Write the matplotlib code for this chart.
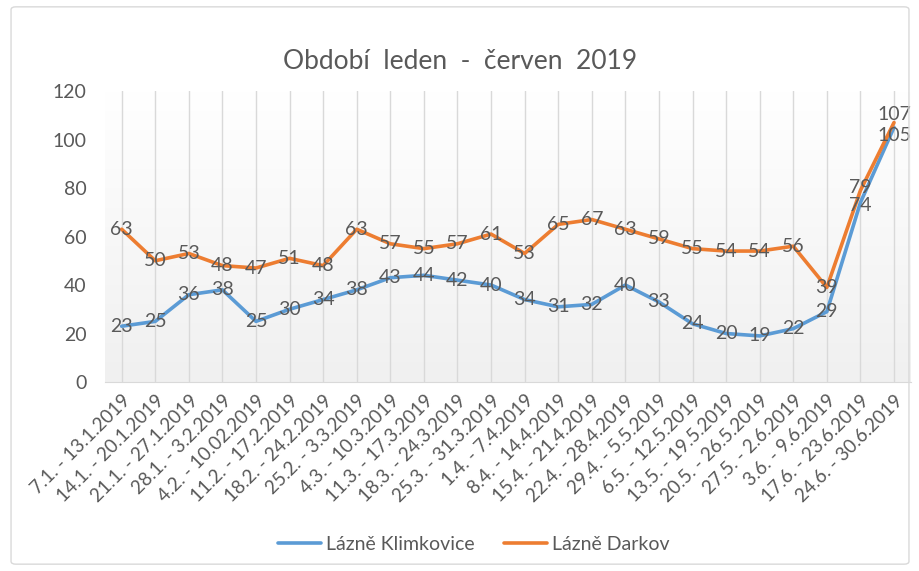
import matplotlib
matplotlib.use("Agg")
import matplotlib.pyplot as plt
import numpy as np
from matplotlib.patches import FancyBboxPatch

plt.rcParams['font.family'] = ['Lato', 'DejaVu Sans']

# data
tydny = ["7.1. - 13.1.2019", "14.1. - 20.1.2019", "21.1. - 27.1.2019", "28.1. - 3.2.2019",
         "4.2. - 10.02.2019", "11.2. - 17.2.2019", "18.2. - 24.2.2019", "25.2. - 3.3.2019",
         "4.3. - 10.3.2019", "11.3. - 17.3.2019", "18.3. - 24.3.2019", "25.3. - 31.3.2019",
         "1.4. - 7.4.2019", "8.4. - 14.4.2019", "15.4. - 21.4.2019", "22.4. - 28.4.2019",
         "29.4. - 5.5.2019", "6.5. - 12.5.2019", "13.5. - 19.5.2019", "20.5. - 26.5.2019",
         "27.5. - 2.6.2019", "3.6. - 9.6.2019", "17.6. - 23.6.2019", "24.6. - 30.6.2019"]
klimkovice = [23, 25, 36, 38, 25, 30, 34, 38, 43, 44, 42, 40, 34, 31, 32, 40, 33, 24, 20, 19, 22, 29, 74, 105]
darkov = [63, 50, 53, 48, 47, 51, 48, 63, 57, 55, 57, 61, 53, 65, 67, 63, 59, 55, 54, 54, 56, 39, 79, 107]
y_ticks = [0, 20, 40, 60, 80, 100, 120]

modra = "#5B9BD5"
oranzova = "#ED7D31"
seda = "#595959"

fig = plt.figure(figsize=(9.2, 5.71), dpi=100)
fig.patch.set_facecolor("white")

# ramecek kolem grafu
ram = FancyBboxPatch((0.012, 0.012), 0.976, 0.976, boxstyle="round,pad=0,rounding_size=0.005",
                     transform=fig.transFigure, fill=False, edgecolor="#D9D9D9", linewidth=1)
fig.patches.append(ram)

ax = fig.add_axes([0.114, 0.331, 0.876, 0.5096])
x = np.arange(len(tydny))

# gradient pozadi
grad = np.linspace(0, 1, 256).reshape(-1, 1)
ax.imshow(grad, extent=[-0.5, len(tydny) - 0.5, 0, 120], aspect="auto",
          cmap=matplotlib.colors.LinearSegmentedColormap.from_list("g", ["#F0F0F0", "#FFFFFF"]),
          origin="lower", zorder=0)

for xi in x:
    ax.axvline(xi, color="#D9D9D9", linewidth=1, zorder=1)

ax.plot(x, klimkovice, color=modra, linewidth=2.6, label="Lázně Klimkovice", zorder=3,
        solid_capstyle="round", solid_joinstyle="round")
ax.plot(x, darkov, color=oranzova, linewidth=2.6, label="Lázně Darkov", zorder=3,
        solid_capstyle="round", solid_joinstyle="round")

# popisky hodnot - u tesnych dvojic trochu od sebe
for xi, a, b in zip(x, klimkovice, darkov):
    posun = 0
    if abs(a - b) < 4:
        posun = 5.5
    elif abs(a - b) < 8:
        posun = 2
    ax.annotate(str(a), (xi, a), xytext=(0, -posun), textcoords="offset points",
                ha="center", va="center", fontsize=14, color=seda, zorder=4)
    ax.annotate(str(b), (xi, b), xytext=(0, posun), textcoords="offset points",
                ha="center", va="center", fontsize=14, color=seda, zorder=4)

ax.set_xlim(-0.5, len(tydny) - 0.5)
ax.set_ylim(0, 120)
ax.set_yticks(y_ticks)
ax.set_yticklabels([str(t) for t in y_ticks], fontsize=14, color=seda)
ax.set_xticks(x)
ax.set_xticklabels(tydny, rotation=45, ha="right", rotation_mode="anchor", fontsize=13.5, color=seda)
ax.tick_params(axis="y", length=0, pad=13)
ax.tick_params(axis="x", length=0, pad=7)
for s in ["top", "right", "left"]:
    ax.spines[s].set_visible(False)
ax.spines["bottom"].set_color("#D9D9D9")

fig.text(0.5, 0.892, "Období  leden  -  červen  2019", ha="center", va="center", fontsize=19, color=seda)

fig.legend(loc="center", bbox_to_anchor=(0.515, 0.046), ncol=2, frameon=False, fontsize=14,
           labelcolor=seda, handlelength=2.2, handletextpad=0.25, columnspacing=1.5)

fig.savefig("out.png", dpi=100)
